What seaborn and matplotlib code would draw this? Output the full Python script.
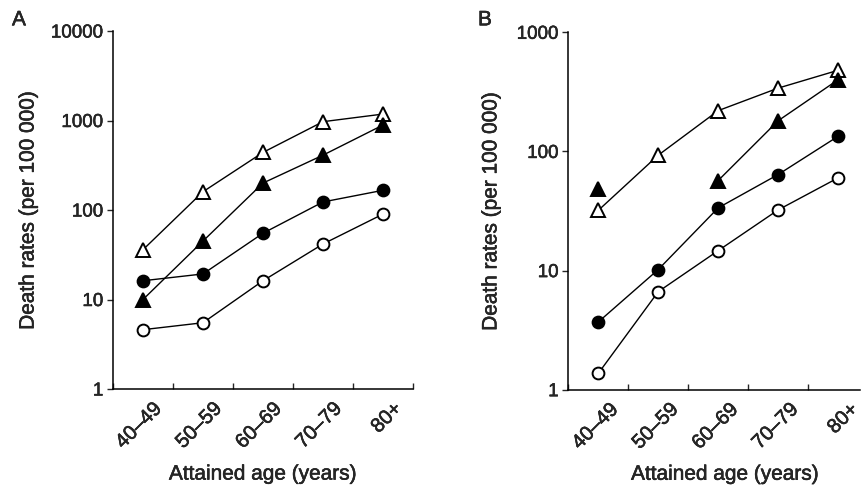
import numpy as np
import pandas as pd
import matplotlib
matplotlib.use("Agg")
import matplotlib.pyplot as plt
import matplotlib.transforms as mtransforms
import matplotlib.patheffects as pe
from matplotlib.ticker import NullLocator, FixedLocator
import seaborn as sns

sns.set_style("ticks")
plt.rcParams["font.family"] = ["Liberation Sans", "DejaVu Sans"]

# ---- data ----
age_groups = ["40\u201349", "50\u201359", "60\u201369", "70\u201379", "80+"]

a_open_tri = [36, 160, 440, 970, 1180]
a_filled_tri = [10, 45, 200, 410, 890]
a_filled_circ = [16.2, 19.3, 55, 123, 166]
a_open_circ = [4.6, 5.5, 16.2, 41.7, 90]

b_open_tri = [32, 93, 220, 340, 480]
b_filled_tri = [48, np.nan, 57, 181, 400]
b_filled_circ = [3.7, 10.2, 33.6, 64, 134]
b_open_circ = [1.37, 6.65, 14.7, 32.3, 60]

y_ticks_a = [1, 10, 100, 1000, 10000]
y_ticks_b = [1, 10, 100, 1000]

series_style = [
    ("open_tri", "^", "white", 9.5),
    ("filled_tri", "^", "black", 9.5),
    ("filled_circ", "o", "black", 8.5),
    ("open_circ", "o", "white", 8.5),
]

W, H = 861, 489
fig = plt.figure(figsize=(W / 100, H / 100), dpi=100)
stroke = [pe.withStroke(linewidth=0.35, foreground="black")]


def runs(vals):
    """split into contiguous non-NaN runs of (index, value)."""
    out, cur = [], []
    for i, v in enumerate(vals):
        if v is None or (isinstance(v, float) and np.isnan(v)):
            if cur:
                out.append(cur)
                cur = []
        else:
            cur.append((i, v))
    if cur:
        out.append(cur)
    return out


def draw_panel(ax, data, yticks, xmax, ylab_x, xlab_xy, lab_dx):
    for vals, (_, mk, fc, ms) in zip(data, series_style):
        for run in runs(vals):
            df = pd.DataFrame(run, columns=["x", "y"])
            sns.lineplot(data=df, x="x", y="y", ax=ax, color="black",
                         linewidth=1.0, marker=mk, markersize=ms,
                         markerfacecolor=fc, markeredgecolor="black",
                         markeredgewidth=1.4, estimator=None, sort=True,
                         legend=False)
    ax.set_yscale("log")
    ax.set_ylim(yticks[0], yticks[-1])
    ax.yaxis.set_major_locator(FixedLocator(yticks))
    ax.set_yticklabels([str(t) for t in yticks])
    ax.yaxis.set_minor_locator(NullLocator())
    ax.set_xlim(-0.5, xmax)
    ax.set_xticks(range(len(age_groups)))
    ax.set_xticklabels(age_groups, rotation=45, ha="right", va="top",
                       rotation_mode="anchor", fontsize=14.5)
    ax.xaxis.set_minor_locator(FixedLocator(np.arange(-0.5, 5.0, 1.0)))
    ax.tick_params(axis="x", which="major", length=0, pad=7.2)
    ax.tick_params(axis="x", which="minor", direction="in", length=4, width=1.0)
    ax.tick_params(axis="y", which="major", direction="out", length=4,
                   width=1.0, labelsize=13.5, pad=3)
    offset = mtransforms.ScaledTranslation(lab_dx / 72, 0, fig.dpi_scale_trans)
    for lab in ax.get_xticklabels():
        lab.set_transform(lab.get_transform() + offset)
        lab.set_path_effects(stroke)
    for lab in ax.get_yticklabels():
        lab.set_path_effects(stroke)
    for s in ["top", "right"]:
        ax.spines[s].set_visible(False)
    for s in ["left", "bottom"]:
        ax.spines[s].set_linewidth(1.1)
        ax.spines[s].set_color("black")
    ax.set_xlabel("Attained age (years)", fontsize=15, va="baseline",
                  path_effects=stroke)
    ax.xaxis.set_label_coords(*xlab_xy)
    ax.set_ylabel("Death rates (per 100 000)", fontsize=15, va="center",
                  path_effects=stroke)
    ax.yaxis.set_label_coords(ylab_x, 0.5)
    ax.grid(False)


axA = fig.add_axes([113 / W, (H - 390) / H, 300 / W, 358 / H])
draw_panel(axA, [a_open_tri, a_filled_tri, a_filled_circ, a_open_circ],
           y_ticks_a, 4.5, -0.283, (0.5, -0.253), 6.5)

axB = fig.add_axes([568.3 / W, (H - 390.7) / H, 292 / W, 357.4 / H])
draw_panel(axB, [b_open_tri, b_filled_tri, b_filled_circ, b_open_circ],
           y_ticks_b, 4.37, -0.265, (0.537, -0.252), 7.4)

fig.text(12 / W, 1 - 20.8 / H, "A", fontsize=15, va="center", ha="left",
         path_effects=stroke)
fig.text(478 / W, 1 - 20.8 / H, "B", fontsize=15, va="center", ha="left",
         path_effects=stroke)

fig.savefig("out.png", dpi=100, facecolor="white")
